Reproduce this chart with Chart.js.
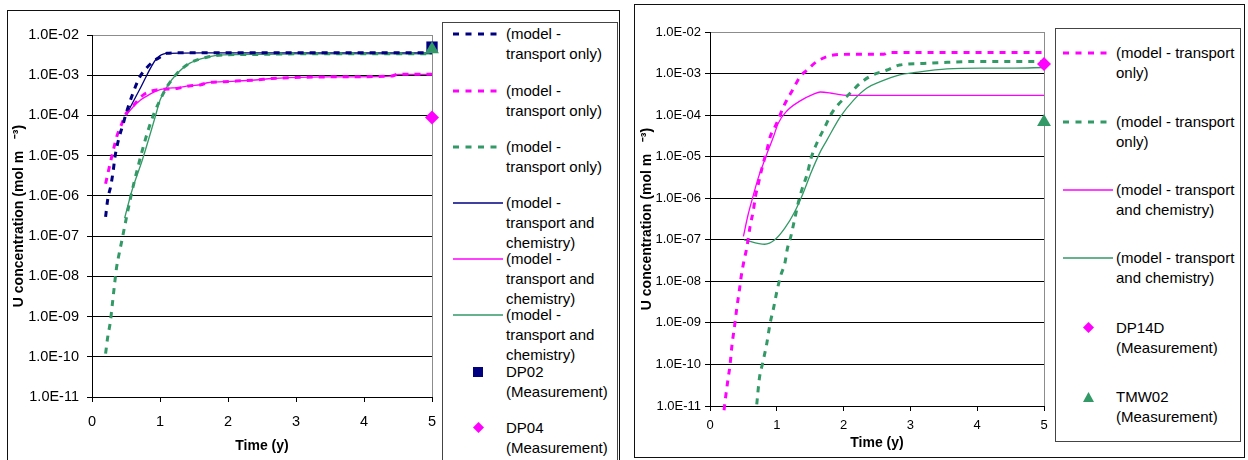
<!DOCTYPE html>
<html lang="en">
<head>
<meta charset="UTF-8">
<title>U concentration against time</title>
<script src="https://cdn.jsdelivr.net/npm/chart.js@4"></script>
<style>
    body {
        margin: 0;
        width: 1248px;
        height: 460px;
        overflow: hidden;
        position: relative;
        background: #fff;
        font-family: Arial, "Liberation Sans", sans-serif;
    }
    .frame { position: absolute; border: 1px solid #111; box-sizing: border-box; }
    .legend { position: absolute; border: 1px solid #444; box-sizing: border-box; background: #fff; }
    canvas { position: absolute; }
    .item { position: absolute; font-size: 15px; line-height: 19.7px; color: #000; white-space: nowrap; }
    .key { position: absolute; }
</style>
</head>
<body>
<div class="frame" style="left:7px; top:10px; width:613px; height:470px;"></div>
<div class="frame" style="left:634px; top:4px; width:611px; height:454px;"></div>
<canvas id="leftChart" width="431" height="448" style="left:9px; top:12px;"></canvas>
<canvas id="rightChart" width="418" height="449" style="left:636px; top:6px;"></canvas>
<div class="legend" id="leftLegend" style="left:442px; top:22px; width:176px; height:460px;"></div>
<div class="legend" id="rightLegend" style="left:1055px; top:28px; width:186px; height:414px;"></div>

<script>
const NAVY = '#000080';
const MAGENTA = '#ff00ff';
const GREEN = '#339966';
const FONT = 'Arial, "Liberation Sans", sans-serif';

// axes
const xTickValues = [0, 1, 2, 3, 4, 5];
const yTickValues = [1e-11, 1e-10, 1e-9, 1e-8, 1e-7, 1e-6, 1e-5, 1e-4, 1e-3, 1e-2];
const yTickLabels = ['1.0E-11', '1.0E-10', '1.0E-09', '1.0E-08', '1.0E-07', '1.0E-06', '1.0E-05', '1.0E-04', '1.0E-03', '1.0E-02'];

// ---- left chart (DP02 / DP04 / TMW02) ----
const dp02TransportT = [0.2, 0.23, 0.28, 0.31, 0.34, 0.39, 0.46, 0.5, 0.6, 0.7, 0.8, 0.9, 1.0, 1.1, 1.3, 2, 3, 4, 5];
const dp02TransportU = [3.0e-7, 7.9e-7, 1.9e-6, 4.0e-6, 9.8e-6, 2.5e-5, 6.3e-5, 1.1e-4, 3.5e-4, 8.9e-4, 1.5e-3, 2.2e-3, 2.8e-3, 3.5e-3, 3.6e-3, 3.6e-3, 3.6e-3, 3.6e-3, 3.6e-3];

const dp04TransportT = [0.2, 0.25, 0.31, 0.37, 0.44, 0.5, 0.6, 0.75, 0.95, 1.25, 1.45, 1.6, 1.7, 1.95, 2.4, 2.65, 2.9, 3.5, 4.4, 4.5, 5];
const dp04TransportU = [2.0e-6, 4.8e-6, 1.3e-5, 3.2e-5, 6.3e-5, 1.1e-4, 1.7e-4, 3.2e-4, 4.3e-4, 4.7e-4, 5.5e-4, 5.8e-4, 6.5e-4, 6.9e-4, 7.6e-4, 8.3e-4, 8.7e-4, 9.1e-4, 9.5e-4, 1.05e-3, 1.05e-3];

const tmw02TransportT = [0.2, 0.23, 0.27, 0.3, 0.33, 0.36, 0.4, 0.44, 0.49, 0.56, 0.62, 0.69, 0.76, 0.82, 0.91, 1.0, 1.1, 1.25, 1.44, 1.69, 1.93, 2.5, 3, 4, 5];
const tmw02TransportU = [1.2e-10, 3.0e-10, 7.4e-10, 2.1e-9, 6.0e-9, 1.6e-8, 3.7e-8, 7.9e-8, 2.1e-7, 7.9e-7, 2.2e-6, 6.5e-6, 1.8e-5, 4.0e-5, 1.1e-4, 2.4e-4, 5.1e-4, 1.1e-3, 2.0e-3, 2.8e-3, 3.2e-3, 3.3e-3, 3.4e-3, 3.4e-3, 3.4e-3];

const dp02ChemT = [0.5, 0.7, 0.95, 1.1, 1.3, 2, 3, 4, 5];
const dp02ChemU = [1.0e-4, 4.4e-4, 2.6e-3, 3.5e-3, 3.55e-3, 3.6e-3, 3.6e-3, 3.6e-3, 3.6e-3];

const dp04ChemT = [0.5, 0.6, 0.71, 0.83, 0.95, 1.1, 1.25, 1.45, 1.6, 1.7, 1.95, 2.4, 2.65, 2.9, 3.5, 4.4, 4.5, 5];
const dp04ChemU = [1.0e-4, 1.6e-4, 2.4e-4, 3.2e-4, 4.1e-4, 4.7e-4, 4.9e-4, 5.5e-4, 5.8e-4, 6.5e-4, 6.9e-4, 7.6e-4, 8.3e-4, 8.7e-4, 9.1e-4, 9.5e-4, 1.05e-3, 1.05e-3];

const tmw02ChemT = [0.48, 0.59, 0.74, 0.93, 1.0, 1.1, 1.25, 1.44, 1.69, 1.93, 2.5, 3, 4, 5];
const tmw02ChemU = [2.8e-7, 1.4e-6, 7.8e-6, 9.3e-5, 2.4e-4, 5.1e-4, 1.1e-3, 2.0e-3, 2.8e-3, 3.2e-3, 3.3e-3, 3.4e-3, 3.4e-3, 3.4e-3];

const dp02MeasT = [5];
const dp02MeasU = [5.0e-3];
const dp04MeasT = [5];
const dp04MeasU = [8.9e-5];
const tmw02MeasLeftT = [5];
const tmw02MeasLeftU = [4.4e-3];

// ---- right chart (DP14D / TMW02) ----
const dp14dTransportT = [0.21, 0.235, 0.265, 0.3, 0.33, 0.37, 0.4, 0.44, 0.47, 0.51, 0.55, 0.6, 0.65, 0.68, 0.72, 0.76, 0.79, 0.85, 0.9, 0.95, 1.02, 1.1, 1.25, 1.35, 1.45, 1.6, 1.85, 2.1, 2.6, 2.66, 5];
const dp14dTransportU = [7.9e-12, 1.7e-11, 3.9e-11, 9.8e-11, 3.0e-10, 8.9e-10, 2.2e-9, 6.2e-9, 1.4e-8, 3.2e-8, 6.3e-8, 2.1e-7, 5.2e-7, 1.1e-6, 2.1e-6, 4.0e-6, 6.3e-6, 1.4e-5, 3.0e-5, 4.4e-5, 7.6e-5, 1.6e-4, 4.4e-4, 8.5e-4, 1.2e-3, 1.95e-3, 2.8e-3, 2.9e-3, 2.9e-3, 3.2e-3, 3.2e-3];

const tmw02RTransportT = [0.7, 0.74, 0.79, 0.85, 0.9, 0.95, 1.0, 1.06, 1.12, 1.16, 1.21, 1.27, 1.32, 1.38, 1.45, 1.52, 1.61, 1.72, 1.82, 1.92, 2.1, 2.25, 2.44, 2.64, 2.84, 3.2, 3.5, 4.0, 5.0];
const tmw02RTransportU = [1.1e-11, 4.7e-11, 1.1e-10, 3.2e-10, 9.8e-10, 2.2e-9, 5.6e-9, 1.4e-8, 2.7e-8, 6.3e-8, 1.2e-7, 3.3e-7, 7.6e-7, 1.7e-6, 3.6e-6, 1.0e-5, 2.3e-5, 5.2e-5, 1.1e-4, 1.8e-4, 3.4e-4, 5.9e-4, 9.3e-4, 1.2e-3, 1.6e-3, 1.75e-3, 1.85e-3, 1.95e-3, 1.95e-3];

const dp14dChemT = [0.5, 0.57, 0.65, 0.72, 0.8, 0.87, 0.95, 1.02, 1.15, 1.35, 1.55, 1.65, 1.85, 2.05, 3, 4, 5];
const dp14dChemU = [1.2e-7, 4.0e-7, 1.2e-6, 3.0e-6, 6.9e-6, 1.4e-5, 3.0e-5, 6.3e-5, 1.26e-4, 2.2e-4, 3.2e-4, 3.6e-4, 3.3e-4, 3.0e-4, 3.0e-4, 3.0e-4, 3.0e-4];

const tmw02RChemT = [0.51, 0.82, 0.97, 1.12, 1.27, 1.4, 1.52, 1.66, 1.75, 1.95, 2.15, 2.35, 2.54, 2.84, 3.05, 3.55, 4.05, 4.55, 5];
const tmw02RChemU = [1.0e-7, 7.8e-8, 1.0e-7, 1.9e-7, 4.8e-7, 1.4e-6, 4.4e-6, 1.4e-5, 2.5e-5, 9.1e-5, 2.3e-4, 4.5e-4, 6.3e-4, 9.3e-4, 1.05e-3, 1.3e-3, 1.35e-3, 1.35e-3, 1.4e-3];

const dp14dMeasT = [5];
const dp14dMeasU = [1.7e-3];
const tmw02MeasRightT = [5];
const tmw02MeasRightU = [6.8e-5];

function pts(t, u) {
    return t.map((x, i) => ({ x: x, y: u[i] }));
}

function lineSet(label, t, u, color, dashed) {
    return {
        label: label,
        data: pts(t, u),
        borderColor: color,
        backgroundColor: color,
        borderWidth: dashed ? 3 : 1.3,
        borderDash: dashed ? [6, 6] : [],
        pointRadius: 0,
        cubicInterpolationMode: 'monotone',
        clip: false,
        order: 2
    };
}

function markSet(label, t, u, color, style, r, order) {
    return {
        label: label,
        data: pts(t, u),
        showLine: false,
        borderColor: color,
        backgroundColor: color,
        pointStyle: style,
        pointRadius: r,
        pointBorderWidth: 0,
        clip: false,
        order: order
    };
}

function makeChart(id, datasets, geo) {
    new Chart(document.getElementById(id), {
        type: 'line',
        data: { datasets: datasets },
        options: {
            responsive: false,
            animation: false,
            devicePixelRatio: 1,
            layout: { padding: { top: geo.padTop, right: geo.padRight, left: 0, bottom: 0 }, autoPadding: false },
            plugins: { legend: { display: false }, tooltip: { enabled: false } },
            scales: {
                x: {
                    type: 'linear',
                    min: 0,
                    max: 5,
                    afterBuildTicks: a => { a.ticks = xTickValues.map(v => ({ value: v })); },
                    afterFit: s => { s.height = geo.xAxisH; s.paddingLeft = 0; s.paddingRight = 0; },
                    grid: {
                        color: c => (c.tick && c.tick.value === 5 ? '#8c8c8c' : 'rgba(0,0,0,0)'),
                        tickColor: '#000',
                        tickLength: 5,
                        lineWidth: 1
                    },
                    border: { color: '#000', width: 1 },
                    ticks: {
                        color: '#000',
                        font: { family: FONT, size: geo.tickSize },
                        padding: geo.xTickPad,
                        maxRotation: 0,
                        autoSkip: false
                    },
                    title: {
                        display: true,
                        text: 'Time (y)',
                        color: '#000',
                        font: { family: FONT, size: 14, weight: 'bold' },
                        padding: { top: 0, bottom: geo.xTitlePad }
                    }
                },
                y: {
                    type: 'logarithmic',
                    min: 1e-11,
                    max: 1e-2,
                    afterBuildTicks: a => { a.ticks = yTickValues.map(v => ({ value: v })); },
                    afterFit: s => { s.width = geo.yAxisW; s.paddingTop = 0; s.paddingBottom = 0; },
                    grid: {
                        color: c => (c.tick && c.tick.value === 1e-2 ? '#8c8c8c' : '#000'),
                        tickColor: '#000',
                        tickLength: 5,
                        lineWidth: 1
                    },
                    border: { color: '#000', width: 1 },
                    ticks: {
                        color: '#000',
                        font: { family: FONT, size: geo.tickSize },
                        padding: geo.yTickPad,
                        autoSkip: false,
                        callback: (v, i) => yTickLabels[i]
                    },
                    title: {
                        display: true,
                        text: 'U concentration (mol m   \u207B\u00B3)',
                        color: '#000',
                        font: { family: FONT, size: 14, weight: 'bold' },
                        padding: { top: geo.yTitlePad, bottom: 0 }
                    }
                }
            }
        }
    });
}

makeChart('leftChart', [
    markSet('TMW02 (Measurement)', tmw02MeasLeftT, tmw02MeasLeftU, GREEN, 'triangle', 8, -2),
    markSet('DP02 (Measurement)', dp02MeasT, dp02MeasU, NAVY, 'rect', 8, -1),
    markSet('DP04 (Measurement)', dp04MeasT, dp04MeasU, MAGENTA, 'rectRot', 7, -1),
    lineSet('DP02 transport only', dp02TransportT, dp02TransportU, NAVY, true),
    lineSet('DP04 transport only', dp04TransportT, dp04TransportU, MAGENTA, true),
    lineSet('TMW02 transport only', tmw02TransportT, tmw02TransportU, GREEN, true),
    lineSet('DP02 transport and chemistry', dp02ChemT, dp02ChemU, NAVY, false),
    lineSet('DP04 transport and chemistry', dp04ChemT, dp04ChemU, MAGENTA, false),
    lineSet('TMW02 transport and chemistry', tmw02ChemT, tmw02ChemU, GREEN, false)
], { padTop: 23, padRight: 8, yAxisW: 83, xAxisH: 63, tickSize: 14.5, yTickPad: 8, xTickPad: 11, xTitlePad: 5.6, yTitlePad: 1.6 });

makeChart('rightChart', [
    markSet('DP14D (Measurement)', dp14dMeasT, dp14dMeasU, MAGENTA, 'rectRot', 7, -1),
    markSet('TMW02 (Measurement)', tmw02MeasRightT, tmw02MeasRightU, GREEN, 'triangle', 8, -1),
    lineSet('DP14D transport only', dp14dTransportT, dp14dTransportU, MAGENTA, true),
    lineSet('TMW02 transport only', tmw02RTransportT, tmw02RTransportU, GREEN, true),
    lineSet('DP14D transport and chemistry', dp14dChemT, dp14dChemU, MAGENTA, false),
    lineSet('TMW02 transport and chemistry', tmw02RChemT, tmw02RChemU, GREEN, false)
], { padTop: 26, padRight: 10, yAxisW: 74, xAxisH: 49, tickSize: 13, yTickPad: 4, xTickPad: 7, xTitlePad: 3.6, yTitlePad: 2.3 });

// ---- legends (HTML) ----
const leftLegendItems = [
    { key: 'dash', color: NAVY, text: ['(model -', 'transport only)'] },
    { key: 'dash', color: MAGENTA, text: ['(model -', 'transport only)'] },
    { key: 'dash', color: GREEN, text: ['(model -', 'transport only)'] },
    { key: 'line', color: NAVY, text: ['(model -', 'transport and', 'chemistry)'] },
    { key: 'line', color: MAGENTA, text: ['(model -', 'transport and', 'chemistry)'] },
    { key: 'line', color: GREEN, text: ['(model -', 'transport and', 'chemistry)'] },
    { key: 'square', color: NAVY, text: ['DP02', '(Measurement)'] },
    { key: 'diamond', color: MAGENTA, text: ['DP04', '(Measurement)'] }
];
const leftLegendY = [34.3, 90.7, 146.7, 203.3, 259.3, 315.3, 371.7, 427.7];

const rightLegendItems = [
    { key: 'dash', color: MAGENTA, text: ['(model - transport', 'only)'] },
    { key: 'dash', color: GREEN, text: ['(model - transport', 'only)'] },
    { key: 'line', color: MAGENTA, text: ['(model - transport', 'and chemistry)'] },
    { key: 'line', color: GREEN, text: ['(model - transport', 'and chemistry)'] },
    { key: 'diamond', color: MAGENTA, text: ['DP14D', '(Measurement)'] },
    { key: 'triangle', color: GREEN, text: ['TMW02', '(Measurement)'] }
];
const rightLegendY = [53.3, 121.7, 190, 257.7, 327.7, 396.7];

function keySvg(item) {
    const c = item.color;
    if (item.key === 'dash') {
        return '<svg width="50" height="6"><line x1="0" y1="3" x2="50" y2="3" stroke="' + c + '" stroke-width="3" stroke-dasharray="6 6.5"/></svg>';
    }
    if (item.key === 'line') {
        return '<svg width="50" height="6"><line x1="0" y1="3" x2="50" y2="3" stroke="' + c + '" stroke-width="1.3"/></svg>';
    }
    if (item.key === 'square') {
        return '<svg width="10" height="10"><rect x="0" y="0" width="10" height="10" fill="' + c + '"/></svg>';
    }
    if (item.key === 'diamond') {
        return '<svg width="11" height="11"><polygon points="5.5,0 11,5.5 5.5,11 0,5.5" fill="' + c + '"/></svg>';
    }
    return '<svg width="11" height="10"><polygon points="5.5,0 11,10 0,10" fill="' + c + '"/></svg>';
}

function buildLegend(items, ys, sampleX, markX, textX) {
    items.forEach(function(item, i) {
        const y = ys[i];
        const key = document.createElement('div');
        key.className = 'key';
        key.innerHTML = keySvg(item);
        const isLine = item.key === 'dash' || item.key === 'line';
        const w = isLine ? 50 : (item.key === 'square' ? 10 : 11);
        const h = isLine ? 6 : (item.key === 'square' ? 10 : (item.key === 'diamond' ? 11 : 10));
        key.style.left = (isLine ? sampleX : markX - w / 2) + 'px';
        key.style.top = (y - h / 2) + 'px';
        key.style.height = h + 'px';
        key.style.lineHeight = '0';
        document.body.appendChild(key);

        const txt = document.createElement('div');
        txt.className = 'item';
        txt.style.left = textX + 'px';
        txt.style.top = (y - 9.85) + 'px';
        txt.innerHTML = item.text.join('<br>');
        document.body.appendChild(txt);
    });
}

buildLegend(leftLegendItems, leftLegendY, 453, 478, 506);
buildLegend(rightLegendItems, rightLegendY, 1063, 1088, 1116);
</script>
</body>
</html>
